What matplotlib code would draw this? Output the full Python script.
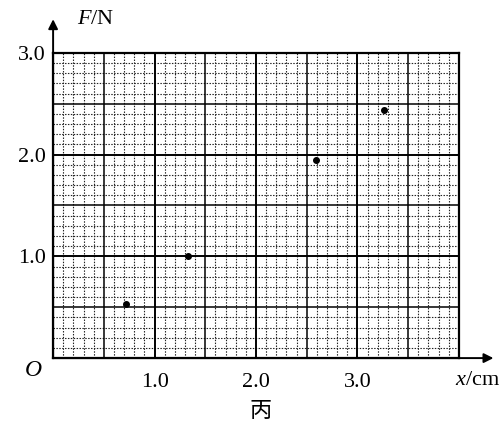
import numpy as np
import matplotlib.pyplot as plt

plt.rcParams['font.family'] = ['Liberation Serif', 'Noto Sans CJK SC', 'DejaVu Sans']
plt.rcParams['mathtext.fontset'] = 'custom'
plt.rcParams['mathtext.it'] = 'Liberation Serif:italic'
plt.rcParams['mathtext.rm'] = 'Liberation Serif'

# measured points (x in cm, F in N)
x_cm = [0.72, 1.33, 2.59, 3.26]
f_n = [0.53, 1.00, 1.95, 2.44]

x_ticks = [1.0, 2.0, 3.0]
y_ticks = [1.0, 2.0, 3.0]
x_max = 4.0
y_max = 3.0


def draw_grid(ax):
    # dotted fine grid every 0.1, solid every 0.5
    for v in np.arange(0.1, x_max, 0.1):
        if abs(v * 2 - round(v * 2)) < 1e-6:
            continue
        ax.axvline(v, color='#222222', lw=0.8, ls=(0, (1.3, 1.3)), zorder=1)
    for v in np.arange(0.1, y_max, 0.1):
        if abs(v * 2 - round(v * 2)) < 1e-6:
            continue
        ax.axhline(v, color='#222222', lw=0.8, ls=(0, (1.3, 1.3)), zorder=1)
    for v in np.arange(0.5, x_max, 0.5):
        ax.axvline(v, color='black', lw=1.4 if v % 1 == 0 else 1.1, zorder=2)
    for v in np.arange(0.5, y_max, 0.5):
        ax.axhline(v, color='black', lw=1.4 if v % 1 == 0 else 1.1, zorder=2)


fig = plt.figure(figsize=(5.01, 4.33), dpi=100)
ax = fig.add_axes([0.106, 0.173, 0.81, 0.705])
ax.set_xlim(0, x_max)
ax.set_ylim(0, y_max)
draw_grid(ax)
ax.plot(x_cm, f_n, 'o', color='black', ms=4, zorder=3)

for s in ax.spines.values():
    s.set_linewidth(1.6)

ax.set_xticks(x_ticks)
ax.set_xticklabels(['%.1f' % v for v in x_ticks])
ax.set_yticks(y_ticks)
ax.set_yticklabels(['%.1f' % v for v in y_ticks])
ax.tick_params(length=0, labelsize=16)
ax.tick_params(axis='x', pad=11)
ax.tick_params(axis='y', pad=5)

# axis arrows
ax.annotate('', xy=(1.085, 0), xytext=(0, 0), xycoords='axes fraction',
            arrowprops=dict(arrowstyle='-|>', color='black', lw=1.4,
                            mutation_scale=14, shrinkA=0, shrinkB=0))
ax.annotate('', xy=(0, 1.11), xytext=(0, 0), xycoords='axes fraction',
            arrowprops=dict(arrowstyle='-|>', color='black', lw=1.4,
                            mutation_scale=14, shrinkA=0, shrinkB=0))

ax.text(0.99, -0.075, r'$x$/cm', transform=ax.transAxes, fontsize=16,
        ha='left', va='center')
ax.text(0.06, 1.11, r'$F$/N', transform=ax.transAxes, fontsize=16,
        ha='left', va='center')
ax.text(-0.05, -0.04, r'$O$', transform=ax.transAxes, fontsize=17,
        ha='center', va='center')
fig.text(0.52, 0.052, '丙', fontsize=16, ha='center', va='center',
         family=['Noto Sans CJK SC'])

fig.savefig('out.png', dpi=100)
